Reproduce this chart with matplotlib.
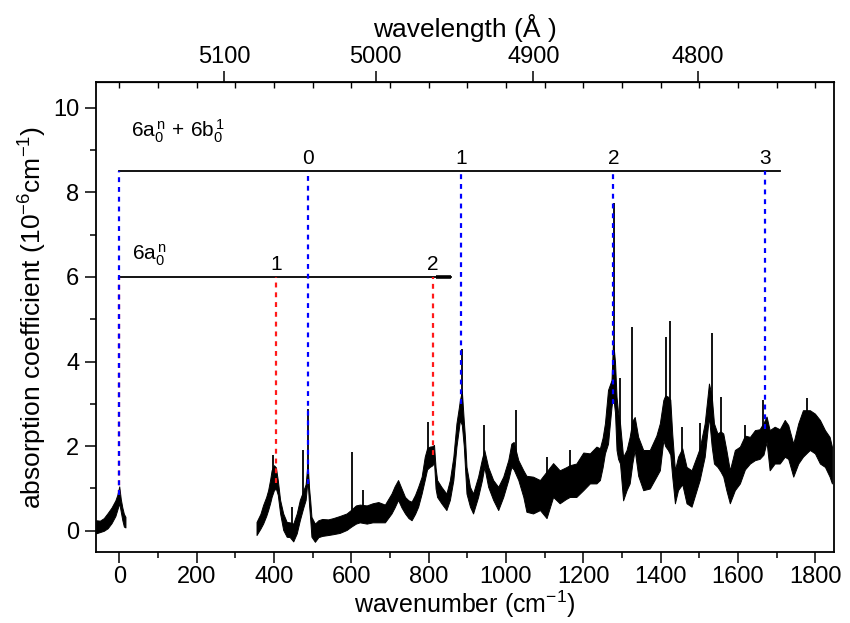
import numpy as np
import matplotlib
matplotlib.use("Agg")
import matplotlib.pyplot as plt
from matplotlib.ticker import MultipleLocator, FixedLocator

plt.rcParams['font.family'] = ['Liberation Sans', 'DejaVu Sans']
plt.rcParams['mathtext.fontset'] = 'custom'
plt.rcParams['mathtext.rm'] = 'Liberation Sans'
plt.rcParams['mathtext.it'] = 'Liberation Sans:italic'

# ---------------- data ----------------
# segment near the origin: wavenumber, lower / upper edge of the noisy trace
wn_a = [-60, -50, -40, -30, -20, -10, -5, 0, 4, 8, 12, 16]
lo_a = [-0.06, -0.03, 0.00, 0.06, 0.18, 0.35, 0.50, 0.65, 0.45, 0.25, 0.10, 0.08]
hi_a = [0.25, 0.24, 0.30, 0.42, 0.55, 0.72, 0.85, 1.05, 0.75, 0.55, 0.40, 0.33]

# main segment
wn_b = [355, 365, 372, 380, 385, 390, 394, 400, 405, 410, 416, 424, 433, 441, 450,
        459, 467, 476, 482, 487, 491, 494, 497, 506, 515, 525, 540, 553, 570, 588,
        600, 612, 622, 640, 655, 670, 687, 704, 712, 721, 730, 739, 748, 756, 765,
        773, 782, 790, 796, 803, 810, 814, 818, 822, 833, 846, 855, 864, 872, 878,
        881, 886, 891, 894, 898, 907, 915, 928, 938, 944, 954, 967, 980, 993, 1006,
        1014, 1020, 1032, 1045, 1053, 1070, 1088, 1105, 1122, 1139, 1155, 1165, 1182, 1200, 1217,
        1234, 1243, 1250, 1256, 1264, 1273, 1277, 1282, 1286, 1290, 1295, 1303, 1312, 1320, 1327,
        1333, 1342, 1355, 1372, 1389, 1398, 1407, 1412, 1419, 1425, 1430, 1437, 1445, 1456, 1467,
        1480, 1493, 1501, 1514, 1525, 1532, 1538, 1547, 1555, 1562, 1570, 1579, 1592, 1605, 1618,
        1631, 1644, 1656, 1666, 1674, 1682, 1695, 1708, 1721, 1730, 1743, 1756, 1768, 1779, 1786,
        1799, 1812, 1825, 1837, 1843]
lo_b = [-0.10, 0.05, 0.17, 0.35, 0.49, 0.65, 0.80, 0.96, 1.00, 0.85, 0.41, 0.02, -0.14, -0.15, -0.25,
        -0.06, 0.25, 0.55, 0.73, 1.20, 0.60, 0.25, -0.14, -0.26, -0.15, -0.12, -0.10, -0.08, -0.05, 0.02,
        0.10, 0.17, 0.20, 0.17, 0.20, 0.20, 0.20, 0.41, 0.55, 0.73, 0.55, 0.41, 0.30, 0.25, 0.40,
        0.57, 0.88, 1.20, 1.45, 1.51, 1.55, 1.63, 1.00, 0.80, 0.65, 0.49, 0.73, 1.20, 1.99, 2.40,
        2.62, 2.50, 2.00, 1.51, 0.88, 0.57, 0.41, 0.80, 1.20, 1.51, 1.04, 0.73, 0.49, 0.80, 1.20,
        1.51, 1.45, 1.20, 0.80, 0.45, 0.41, 0.49, 0.30, 0.80, 0.65, 0.75, 0.80, 0.80, 0.96, 1.12,
        1.12, 1.20, 1.50, 1.83, 2.06, 2.93, 3.20, 2.80, 1.91, 1.70, 1.59, 0.72, 0.96, 1.12, 1.60,
        1.91, 1.30, 0.96, 1.00, 1.28, 1.43, 2.14, 2.00, 1.91, 1.80, 1.28, 0.65, 0.96, 1.10, 0.65,
        0.57, 0.96, 1.20, 1.75, 2.70, 2.00, 1.59, 1.51, 1.40, 1.28, 0.96, 0.65, 0.96, 1.12, 1.45,
        1.59, 1.67, 1.70, 1.80, 2.10, 1.43, 1.59, 1.59, 1.75, 1.70, 1.28, 1.59, 1.75, 1.85, 1.91,
        1.83, 1.59, 1.51, 1.28, 1.12]
hi_b = [0.21, 0.40, 0.61, 0.80, 0.96, 1.20, 1.43, 1.55, 1.50, 1.20, 0.73, 0.41, 0.21, 0.20, 0.17,
        0.41, 0.73, 0.95, 1.10, 1.60, 1.00, 0.70, 0.33, 0.17, 0.25, 0.28, 0.27, 0.30, 0.35, 0.41,
        0.50, 0.60, 0.62, 0.60, 0.65, 0.68, 0.62, 0.88, 1.05, 1.20, 1.00, 0.80, 0.72, 0.69, 0.85,
        1.04, 1.28, 1.75, 1.95, 1.99, 2.00, 2.03, 1.50, 1.20, 1.04, 0.88, 1.20, 1.75, 2.54, 2.90,
        3.09, 3.30, 2.60, 2.22, 1.51, 1.04, 0.88, 1.28, 1.70, 1.91, 1.51, 1.20, 1.04, 1.28, 1.67,
        2.06, 2.10, 1.67, 1.43, 1.30, 1.28, 1.20, 1.40, 1.60, 1.43, 1.50, 1.55, 1.59, 1.85, 1.83,
        1.99, 1.95, 2.20, 2.54, 3.33, 3.56, 4.50, 4.00, 3.17, 2.80, 2.54, 1.75, 1.91, 2.22, 2.60,
        2.69, 2.22, 1.91, 1.91, 2.25, 2.54, 3.09, 3.20, 3.17, 3.10, 2.30, 1.43, 1.75, 1.95, 1.51,
        1.43, 1.75, 1.95, 2.54, 3.48, 3.20, 2.54, 2.30, 2.35, 2.30, 1.91, 1.43, 1.91, 1.99, 2.25,
        2.22, 2.38, 2.40, 2.55, 2.70, 2.38, 2.46, 2.40, 2.62, 2.50, 2.06, 2.54, 2.85, 2.85, 2.85,
        2.77, 2.62, 2.38, 2.22, 1.99]

# narrow spikes: position, foot, top
spike_wn = [398, 446, 476, 487, 603, 631, 799, 886, 944, 1025, 1105, 1165, 1279, 1294,
            1327, 1415, 1425, 1456, 1501, 1532, 1555, 1618, 1666, 1779]
spike_lo = [1.20, 0.10, 0.80, 1.10, 0.40, 0.50, 1.80, 2.60, 1.70, 1.70, 1.10, 1.20, 3.50, 2.30,
            2.20, 2.60, 2.50, 1.60, 1.70, 2.80, 1.90, 1.90, 2.30, 2.50]
spike_top = [1.79, 0.57, 1.91, 2.89, 1.87, 0.96, 2.58, 4.30, 2.50, 2.85, 1.75, 1.91, 7.75, 3.62,
             4.82, 4.59, 4.96, 2.46, 2.54, 4.67, 3.17, 2.50, 3.09, 3.13]

# progression markers
blue_wn = [0, 487, 883, 1278, 1670]
blue_end = [0.85, 1.10, 3.00, 3.00, 2.40]
blue_labels = ['', '0', '1', '2', '3']
red_wn = [0, 405, 812]
red_end = [0.85, 1.12, 1.79]
red_labels = ['', '1', '2']
upper_level, upper_end = 8.5, 1708
lower_level, lower_end = 6.0, 859

nu0 = 19337.0  # cm^-1, origin for the wavelength scale
wl_ticks = [5100, 5000, 4900, 4800]

# ---------------- figure ----------------
fig = plt.figure(figsize=(8.5, 6.23), dpi=100)
ax = fig.add_axes([0.113, 0.114, 0.868, 0.754])

for wn, lo, hi in ((wn_a, lo_a, hi_a), (wn_b, lo_b, hi_b)):
    ax.fill_between(wn, lo, hi, color='black', lw=0.7, edgecolor='black', zorder=2)
ax.vlines(spike_wn, spike_lo, spike_top, color='black', lw=1.3, zorder=2)

# horizontal progression bars
ax.plot([0, upper_end], [upper_level, upper_level], color='black', lw=1.3, zorder=3)
ax.plot([0, lower_end], [lower_level, lower_level], color='black', lw=1.3, zorder=3)
ax.plot([820, lower_end], [lower_level, lower_level], color='black', lw=2.6, zorder=3,
        solid_capstyle='butt')

ax.vlines(red_wn, red_end, lower_level, colors='#ff1a1a', linestyles=(0, (2.2, 2.2)),
          lw=1.6, zorder=4)
ax.vlines(blue_wn, blue_end, upper_level, colors='#0000ff', linestyles=(0, (2.2, 2.2)),
          lw=1.6, zorder=5)

for x, t in zip(blue_wn, blue_labels):
    if t:
        ax.text(x, upper_level + 0.08, t, ha='center', va='bottom', fontsize=15)
for x, t in zip(red_wn, red_labels):
    if t:
        ax.text(x, lower_level + 0.08, t, ha='center', va='bottom', fontsize=15)
ax.text(30, 9.45, r'$\mathregular{6a_0^{\,n}\,+\,6b_0^{\,1}}$', ha='left', va='center', fontsize=15)
ax.text(34, 6.5, r'$\mathregular{6a_0^{\,n}}$', ha='left', va='center', fontsize=15)

ax.set_xlim(-60, 1848)
ax.set_ylim(-0.5, 10.6)

ax.xaxis.set_major_locator(MultipleLocator(200))
ax.xaxis.set_minor_locator(MultipleLocator(100))
ax.yaxis.set_major_locator(MultipleLocator(2))
ax.yaxis.set_minor_locator(MultipleLocator(1))
ax.tick_params(which='both', direction='out', width=1.1, labelsize=17)
ax.tick_params(axis='x', pad=2)
ax.tick_params(axis='y', pad=4)
ax.tick_params(which='major', length=8)
ax.tick_params(which='minor', length=4)
for s in ax.spines.values():
    s.set_linewidth(1.3)

ax.set_xlabel('wavenumber (cm$^{\\mathregular{-1}}$)', fontsize=18, labelpad=0.5)
ax.set_ylabel('absorption coefficient (10$^{\\mathregular{-6}}$cm$^{\\mathregular{-1}}$)',
              fontsize=19, labelpad=3)

# inward ticks mirrored on top
top_in = ax.secondary_xaxis('top', functions=(lambda v: v, lambda v: v))
top_in.xaxis.set_major_locator(MultipleLocator(100))
top_in.tick_params(direction='in', length=4, width=1.0, labeltop=False)

# wavelength axis
def wn2wl(v):
    return 1e8 / (nu0 + np.asarray(v, dtype=float))

def wl2wn(w):
    return 1e8 / np.asarray(w, dtype=float) - nu0

sec = ax.secondary_xaxis('top', functions=(wn2wl, wl2wn))
sec.xaxis.set_major_locator(FixedLocator(wl_ticks))
sec.xaxis.set_minor_locator(FixedLocator([]))
sec.tick_params(direction='out', length=8, width=1.1, labelsize=17, pad=2)
sec.set_xlabel('wavelength (Å )', fontsize=19, labelpad=7)

fig.savefig('out.png', dpi=100)
